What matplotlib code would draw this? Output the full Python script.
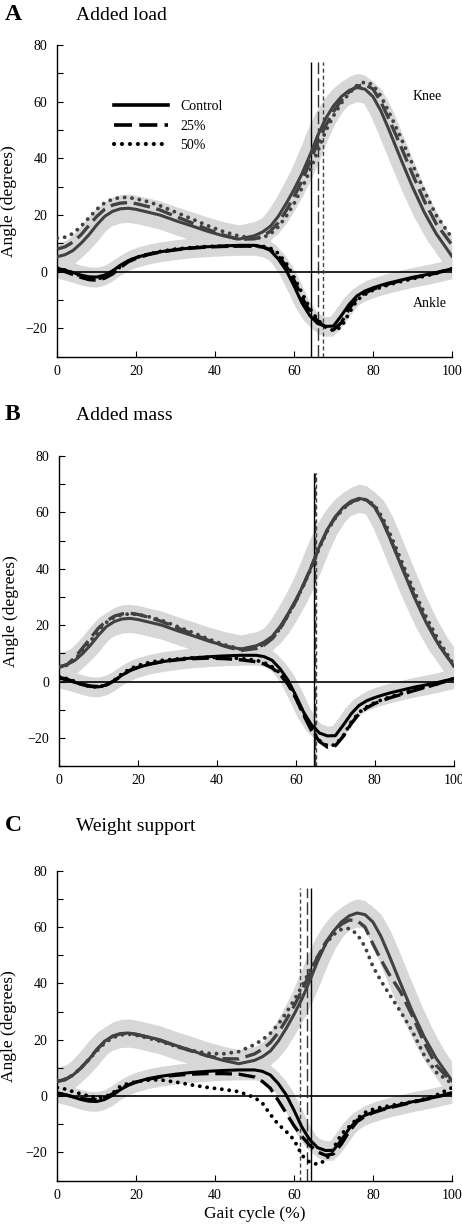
import numpy as np
import matplotlib.pyplot as plt
from matplotlib.lines import Line2D

plt.rcParams['font.family'] = ['Liberation Serif', 'DejaVu Serif']

# % of gait cycle at which the curves were read
gait = np.array([0, 2, 4, 6, 8, 10, 12, 14, 16, 18, 20, 23, 26, 30, 34, 38, 42, 46, 50,
                 52, 54, 56, 58, 60, 62, 64, 66, 68, 70, 72, 74, 76, 78, 80, 82, 84,
                 87, 90, 93, 96, 100])

# control (same in every panel)
knee_control = [5.3, 6, 7.5, 10, 13, 16.5, 19.5, 21.3, 22.2, 22.4, 22, 21, 20, 18, 16.2, 14.3, 12.7, 11.5, 12.7,
                14, 16, 19.5, 24, 29, 34.5, 41, 48, 54, 58.5, 61.8, 64, 65, 64.4, 61.8, 56.8, 50.3,
                40, 30, 21, 13.5, 5.5]
ankle_control = [1.2, 0.5, -0.3, -1.2, -1.8, -1.9, -1.2, 0.3, 2.3, 3.9, 5, 6.2, 7, 7.8, 8.4, 8.8, 9.1, 9.3, 9.3,
                 8.8, 7.5, 4.5, 0.5, -5, -11, -15.5, -18.3, -19.3, -19.2, -15.5, -11.5, -8.5, -6.8, -5.7, -4.8, -4,
                 -3, -2, -1.2, -0.3, 1]
knee_sd = 5
ankle_sd = 3.5

# A: added load
knee_load25 = [8, 8.8, 10.5, 13, 16.3, 19.5, 22, 23.5, 24.2, 24.4, 24, 23, 21.8, 19.5, 17.3, 15, 13, 11.4, 11.6,
               12.5, 14.3, 17.3, 21.5, 26.5, 32, 38.5, 45.5, 51.5, 56.5, 60.5, 63.5, 65.5, 66, 64.5, 60, 54,
               44.5, 34.5, 25, 17, 9.5]
knee_load50 = [11.8, 12.2, 13.5, 16, 19, 22, 24.3, 25.6, 26.2, 26.2, 25.7, 24.7, 23.3, 21, 18.7, 16.3, 14.2, 12.6, 11.8,
               12, 13.3, 15.8, 19.5, 24, 29.5, 35.5, 42.5, 49.5, 55, 59.5, 63, 65.8, 67, 66, 62, 56.5,
               47.5, 38, 28.5, 20, 12]
ankle_load25 = [0.8, 0, -1, -2, -2.8, -3, -2.3, -0.8, 1.5, 3.5, 4.7, 6, 6.9, 7.7, 8.3, 8.7, 8.9, 9, 9,
                8.7, 7.8, 5.5, 2, -3, -9, -14, -17.5, -19.5, -20.5, -18, -13, -9.2, -7.5, -6.2, -5.2, -4.3,
                -3.2, -2.2, -1.4, -0.5, 1]
ankle_load50 = [1.3, 0.6, -0.5, -1.5, -2.2, -2.5, -2, -0.5, 1.8, 3.8, 5, 6.2, 7.1, 8, 8.5, 8.9, 9, 9.1, 9.2,
                9, 8.3, 6.5, 3, -2, -7.5, -13, -17, -19.5, -20.8, -19.5, -14.5, -10, -8, -6.5, -5.5, -4.6,
                -3.5, -2.5, -1.6, -0.6, 1]

# B: added mass
knee_mass25 = [5, 6, 8.5, 12, 15.5, 19, 21.5, 23.2, 24, 24.2, 23.8, 22.7, 21.3, 19, 16.8, 14.5, 12.5, 11, 11.7,
               13, 15.2, 18.8, 23.5, 28.5, 34.5, 41, 48, 53.8, 58.3, 61.5, 63.7, 64.7, 64.3, 62, 57, 50.5,
               40.5, 30.5, 21.5, 13.5, 5.5]
knee_mass50 = [5.2, 5.8, 7.8, 11, 14.5, 18, 21, 22.8, 23.7, 24, 23.8, 22.9, 21.7, 19.5, 17.3, 15, 13, 11.5, 12,
               13.2, 15.3, 18.8, 23.5, 28.5, 34.3, 40.5, 47.5, 53.5, 58, 61.3, 63.5, 64.7, 64.5, 62.5, 58, 52,
               42, 32, 23, 15, 6]
ankle_mass25 = [1.5, 0.8, -0.2, -1, -1.6, -1.8, -1.2, 0.3, 2.3, 4, 5, 6.2, 7, 7.7, 8.1, 8.3, 8.1, 7.7, 7,
                6.2, 4.8, 2.5, -1, -6, -12, -17.5, -21.3, -23.3, -22.8, -19.5, -15, -11.5, -9.3, -7.8, -6.7, -5.7,
                -4.5, -3.2, -2, -0.8, 1]
ankle_mass50 = [1.8, 1, 0, -1.2, -1.8, -2, -1.2, 0.5, 2.8, 4.5, 5.7, 6.8, 7.5, 8, 8.4, 8.6, 8.5, 8.2, 7.5,
                6.7, 5.2, 3, -0.5, -5.5, -11.5, -17, -21, -22.8, -22.5, -19.3, -14.5, -11, -9, -7.5, -6.4, -5.4,
                -4.2, -3, -1.9, -0.7, 1]

# C: weight support
knee_ws25 = [5.2, 5.8, 7.5, 10, 13, 16.5, 19.3, 21.2, 22.1, 22.3, 21.9, 20.9, 19.8, 17.8, 16, 14.3, 13.3, 13.2, 15,
             16.7, 19, 22.5, 27, 32, 37.5, 43.5, 49.5, 54.5, 58.3, 61, 62.5, 62.3, 60, 54, 48.5, 43.5,
             37, 28.5, 19, 11, 5]
knee_ws50 = [5.5, 6, 7.5, 10, 13, 16, 18.8, 20.7, 21.7, 22, 21.6, 20.6, 19.5, 17.7, 16.2, 15.2, 15, 15.8, 18.3,
             20, 22.3, 25.5, 29.5, 34, 39, 44.5, 49.5, 54, 57.3, 59.2, 59.5, 57.5, 53, 46, 41, 36.5,
             30, 23, 14.5, 8.5, 4.5]
ankle_ws25 = [1, 0.5, -0.2, -0.8, -1.2, -1.2, -0.6, 0.8, 2.5, 4, 5, 6, 6.8, 7.4, 7.8, 8, 8, 7.8, 6.8,
              5.2, 2.8, -1.5, -6, -10.5, -14.3, -17.5, -19.8, -21, -20.5, -17, -12.5, -9, -7.2, -5.9, -5, -4.2,
              -3.2, -2.2, -1.3, -0.3, 1.2]
ankle_ws50 = [3, 2.5, 1.6, 0.8, 0, -0.5, -0.3, 1, 3.5, 4.5, 5.1, 5.7, 5.8, 5, 4, 3.1, 2.4, 1.6, -0.5,
              -2.5, -6.5, -10, -12.5, -15.5, -21, -23.5, -24.2, -22.8, -18.5, -13.5, -10.8, -8, -5.8, -4.7, -4, -3.5,
              -2.7, -2, -1, 0.3, 3]

# toe-off (control, 25%, 50%)
toe_off = {'A': [64.4, 66.1, 67.4], 'B': [64.5, 64.9, 65.2], 'C': [64.4, 63.2, 61.5]}

panels = [
    ('A', 'Added load', knee_load25, knee_load50, ankle_load25, ankle_load50),
    ('B', 'Added mass', knee_mass25, knee_mass50, ankle_mass25, ankle_mass50),
    ('C', 'Weight support', knee_ws25, knee_ws50, ankle_ws25, ankle_ws50),
]
positions = [[0.124, 0.710, 0.854, 0.2534],
             [0.128, 0.3772, 0.854, 0.252],
             [0.124, 0.0401, 0.854, 0.252]]
title_y = [1 - 19.5 / 1230, 1 - 420.5 / 1230, 1 - 831 / 1230]

band = '#d7d7d7'
knee_col = '#414141'
dash = (0, (5, 2))
dots = (0, (0.01, 1.9))

fig = plt.figure(figsize=(4.62, 12.3), dpi=100)

for i, (letter, title, k25, k50, a25, a50) in enumerate(panels):
    ax = fig.add_axes(positions[i])
    kc = np.array(knee_control)
    ac = np.array(ankle_control)

    # SD bands around control
    ax.fill_between(gait, kc - knee_sd, kc + knee_sd, color=band, lw=0, zorder=1)
    ax.plot(gait, kc, color=band, lw=16, solid_joinstyle='round', zorder=1)
    ax.fill_between(gait, ac - ankle_sd, ac + ankle_sd, color=band, lw=0, zorder=1)
    ax.plot(gait, ac, color=band, lw=11, solid_joinstyle='round', zorder=1)

    ax.axhline(0, color='black', lw=1.2, zorder=2)

    t = toe_off[letter]
    ax.vlines(t[0], -30, 74, color='black', lw=1.0, zorder=2)
    ax.vlines(t[1], -30, 74, color='#333333', lw=1.0, linestyles=[(0, (9, 3))], zorder=2)
    ax.vlines(t[2], -30, 74, color='#444444', lw=1.0, linestyles=[(0, (3, 2))], zorder=2)

    ax.plot(gait, kc, color=knee_col, lw=2.2, zorder=3)
    ax.plot(gait, k25, color=knee_col, lw=2.4, ls=dash, zorder=3)
    ax.plot(gait, k50, color=knee_col, lw=2.8, ls=dots, dash_capstyle='round', zorder=3)
    ax.plot(gait, ac, color='black', lw=2.2, zorder=4)
    ax.plot(gait, a25, color='black', lw=2.4, ls=dash, zorder=4)
    ax.plot(gait, a50, color='black', lw=2.8, ls=dots, dash_capstyle='round', zorder=4)

    ax.set_xlim(0, 100)
    ax.set_ylim(-30, 80)
    ax.set_xticks([0, 20, 40, 60, 80, 100])
    ax.set_yticks([-20, 0, 20, 40, 60, 80])
    ax.set_yticks(np.arange(-30, 81, 10), minor=True)
    ax.tick_params(direction='in', length=4, width=0.8, labelsize=10, pad=7)
    ax.tick_params(axis='y', which='minor', direction='in', length=4, width=0.8)
    ax.tick_params(axis='x', pad=6)
    for s in ['top', 'right']:
        ax.spines[s].set_visible(False)
    for s in ['left', 'bottom']:
        ax.spines[s].set_linewidth(1.0)
    ax.set_ylabel('Angle (degrees)', fontsize=12.5, labelpad=6)

    fig.text(0.011, title_y[i], letter, fontsize=17, fontweight='bold', va='baseline')
    fig.text(0.165, title_y[i], title, fontsize=14, va='baseline')

    if letter == 'A':
        ax.text(90.1, 62, 'Knee', fontsize=10, va='center')
        ax.text(90.1, -11.4, 'Ankle', fontsize=10, va='center')
        handles = [Line2D([], [], color='black', lw=2.6),
                   Line2D([], [], color='black', lw=2.6, ls=dash),
                   Line2D([], [], color='black', lw=3.0, ls=dots, dash_capstyle='round')]
        ax.legend(handles, ['Control', '25%', '50%'], loc='upper left',
                  bbox_to_anchor=(0.125, 0.845), frameon=False, fontsize=10,
                  handlelength=3.9, handletextpad=0.9, labelspacing=0.45, borderpad=0)
    if letter == 'C':
        ax.set_xlabel('Gait cycle (%)', fontsize=12.5, labelpad=3)

plt.savefig('out.png', dpi=100)
